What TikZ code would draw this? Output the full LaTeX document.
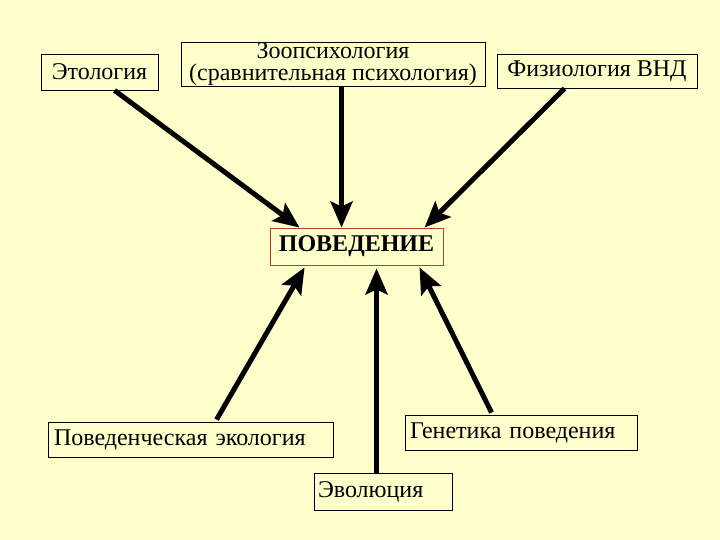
\documentclass[tikz,border=0pt]{standalone}
\usepackage{fontspec}
\setmainfont{Liberation Serif}
\usetikzlibrary{arrows.meta,calc}
\definecolor{bg}{RGB}{255,255,204}
\definecolor{redbox}{RGB}{190,60,40}
\begin{document}
\begin{tikzpicture}[x=1pt,y=-1pt,
  box/.style={draw=black,line width=0.9pt,fill=bg,inner sep=0pt,font=\fontsize{24}{22}\selectfont},
  arr/.style={line width=5pt,-{Stealth[length=26pt,width=22pt,inset=5pt]}}]
\fill[bg] (0,0) rectangle (720,540);
\useasboundingbox (0,0) rectangle (720,540);
\node[box,minimum width=117pt,minimum height=36pt] (eth) at (99.5,72) {Этология};
\node[box,minimum width=304pt,minimum height=44pt,align=center] (zoo) at (333,64) {Зоопсихология\\(сравнительная психология)};
\node[box,minimum width=200pt,minimum height=34pt] (fiz) at (597,71) {Физиология ВНД};
\node[box,draw=redbox,minimum width=173pt,minimum height=37pt,font=\fontsize{24}{24}\selectfont\bfseries] (pov) at (356.5,246.5) {ПОВЕДЕНИЕ};
\node[box,minimum height=35pt,text width=273pt,inner xsep=6pt,align=left] (eco) at (190.5,439.5) {Поведенческая экология};
\node[box,minimum height=35pt,text width=222pt,inner xsep=5pt,align=left] (gen) at (521,432.5) {Генетика поведения};
\node[box,minimum height=37pt,text width=130pt,inner xsep=4pt,align=left] (evo) at (383,491.5) {Эволюция};
\draw[arr] ($(eth.south west)+(74,0)$) -- ($(pov.north west)+(30,0)$);
\draw[arr] ($(zoo.south west)+(161,0)$) -- ($(pov.north west)+(72,0)$);
\draw[arr] ($(fiz.south west)+(68,0)$) -- ($(pov.north west)+(155,0)$);
\draw[arr] ($(eco.north west)+(169,-2)$) -- ($(pov.south west)+(35,2)$);
\draw[arr] (evo.north -| {$(pov.south west)+(107,0)$}) -- ($(pov.south west)+(107,3)$);
\draw[arr] ($(gen.north west)+(87,-2)$) -- ($(pov.south west)+(150,2)$);
\end{tikzpicture}
\end{document}
